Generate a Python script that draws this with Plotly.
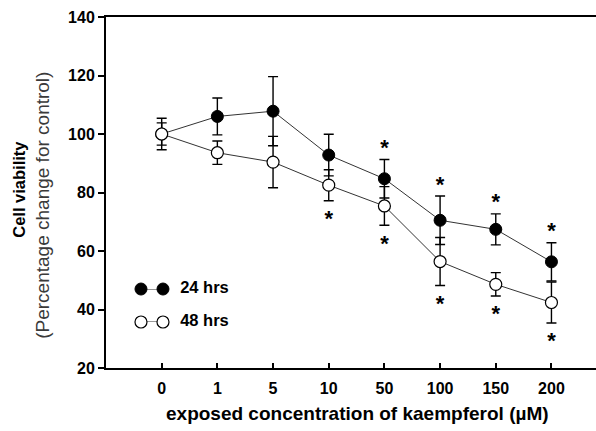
import plotly.graph_objects as go

# ---- data ----
concentrations = ["0", "1", "5", "10", "50", "100", "150", "200"]
viability_24h = [100.0, 106.0, 107.8, 92.8, 84.7, 70.5, 67.4, 56.3]
error_24h = [3.8, 6.3, 11.8, 7.1, 6.6, 8.3, 5.3, 6.5]
viability_48h = [100.0, 93.6, 90.4, 82.5, 75.4, 56.4, 48.6, 42.4]
error_48h = [5.4, 4.0, 8.8, 5.3, 6.6, 8.2, 4.0, 7.0]
significant_24h = ["50", "100", "150", "200"]
significant_48h = ["10", "50", "100", "150", "200"]
series_names = ["24 hrs", "48 hrs"]
y_ticks = [20, 40, 60, 80, 100, 120, 140]

FONT = "Liberation Sans, Arial, sans-serif"
STAR_GAP_UP = 3.4
STAR_GAP_DOWN = 6.8

fig = go.Figure()

common_err = dict(type="data", thickness=1.4, width=5, color="black")

fig.add_trace(go.Scatter(
    x=concentrations, y=viability_24h, mode="lines+markers",
    error_y=dict(array=error_24h, **common_err),
    line=dict(color="#333333", width=1),
    marker=dict(size=12, color="black", line=dict(color="black", width=1)),
    showlegend=False, cliponaxis=False))

fig.add_trace(go.Scatter(
    x=concentrations, y=viability_48h, mode="lines+markers",
    error_y=dict(array=error_48h, **common_err),
    line=dict(color="#333333", width=1),
    marker=dict(size=12, color="white", line=dict(color="black", width=1.2)),
    showlegend=False, cliponaxis=False))

# significance stars
idx24 = [concentrations.index(c) for c in significant_24h]
idx48 = [concentrations.index(c) for c in significant_48h]
fig.add_trace(go.Scatter(
    x=significant_24h,
    y=[viability_24h[i] + error_24h[i] + STAR_GAP_UP for i in idx24],
    mode="text", text=["*"] * len(idx24), textposition="middle center",
    textfont=dict(family=FONT, size=22, color="black", weight="bold"),
    showlegend=False, cliponaxis=False))
fig.add_trace(go.Scatter(
    x=significant_48h,
    y=[viability_48h[i] - error_48h[i] - STAR_GAP_DOWN for i in idx48],
    mode="text", text=["*"] * len(idx48), textposition="middle center",
    textfont=dict(family=FONT, size=22, color="black", weight="bold"),
    showlegend=False, cliponaxis=False))

# custom legend on a small inset axis
fig.add_trace(go.Scatter(
    x=[0, 1], y=[1, 1], mode="lines+markers", xaxis="x2", yaxis="y2",
    line=dict(color="#333333", width=1),
    marker=dict(size=12, color="black", line=dict(color="black", width=1)),
    showlegend=False, cliponaxis=False))
fig.add_trace(go.Scatter(
    x=[0, 1], y=[0, 0], mode="lines+markers", xaxis="x2", yaxis="y2",
    line=dict(color="#333333", width=1),
    marker=dict(size=12, color="white", line=dict(color="black", width=1.2)),
    showlegend=False, cliponaxis=False))
fig.add_trace(go.Scatter(
    x=[1.78, 1.78], y=[1, 0], mode="text", text=series_names,
    textposition="middle right", xaxis="x2", yaxis="y2",
    textfont=dict(family=FONT, size=16.5, color="black", weight="bold"),
    showlegend=False, cliponaxis=False))

fig.update_layout(
    width=596, height=431,
    margin=dict(l=106, r=0, t=17, b=63),
    paper_bgcolor="white", plot_bgcolor="white",
    font=dict(family=FONT, color="black"),
    xaxis=dict(
        type="category", range=[-1, 7.8],
        showline=True, linecolor="black", linewidth=2, mirror=True,
        ticks="inside", ticklen=5, tickwidth=1.5, tickcolor="black",
        showgrid=False, zeroline=False, ticklabelstandoff=5,
        tickfont=dict(family=FONT, size=16, color="black", weight="bold")),
    yaxis=dict(
        range=[20, 140], tickvals=y_ticks,
        showline=True, linecolor="black", linewidth=2,
        ticks="outside", ticklen=6, tickwidth=1.5, tickcolor="black",
        showgrid=False, zeroline=False,
        tickfont=dict(family=FONT, size=16, color="black", weight="bold")),
    xaxis2=dict(domain=[0.0714, 0.251], range=[0, 4], anchor="y2",
                visible=False, fixedrange=True),
    yaxis2=dict(domain=[0.131, 0.225], range=[0, 1], anchor="x2",
                visible=False, fixedrange=True),
    annotations=[
        dict(text="<b>exposed concentration of kaempferol (µM)</b>",
             xref="paper", yref="paper", x=0.513, y=-0.131,
             showarrow=False, xanchor="center", yanchor="middle",
             font=dict(family=FONT, size=19, color="black")),
        dict(text="<b>Cell viability</b>", xref="paper", yref="paper",
             x=-0.178, y=0.51, textangle=-90, showarrow=False,
             xanchor="center", yanchor="middle",
             font=dict(family=FONT, size=16.5, color="black")),
        dict(text="(Percentage change for control)", xref="paper", yref="paper",
             x=-0.13, y=0.463, textangle=-90, showarrow=False,
             xanchor="center", yanchor="middle",
             font=dict(family=FONT, size=19, color="#3a3a3a")),
    ],
)

fig.write_html("out.html", config={"displayModeBar": False})

# remove the browser's default page margin so the figure sits at (0, 0)
with open("out.html", encoding="utf-8") as f:
    html = f.read()
html = html.replace("<body>", '<body style="margin:0;padding:0">', 1)
with open("out.html", "w", encoding="utf-8") as f:
    f.write(html)
